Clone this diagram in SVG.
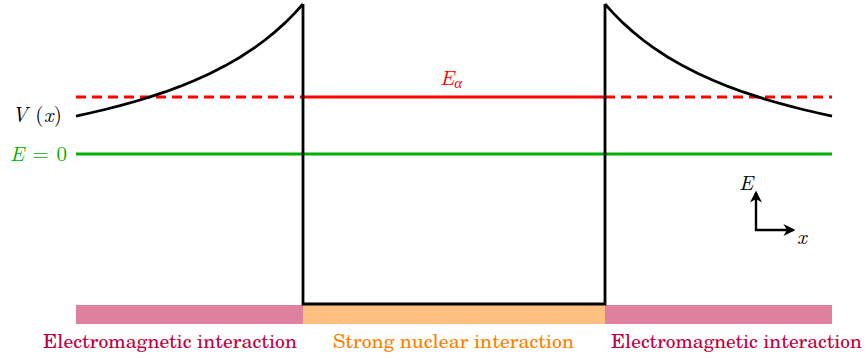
<svg xmlns="http://www.w3.org/2000/svg" xmlns:xlink="http://www.w3.org/1999/xlink" width="867" height="360" viewBox="0 0 867 360">
<style>
.pot{fill:none;stroke:#000;stroke-width:2.8;stroke-linejoin:miter}
.red{stroke:#FF0000;stroke-width:3;fill:none}
.dash{stroke-dasharray:10 6}
.green{stroke:#00B000;stroke-width:3;fill:none}
.axis{stroke:#000;stroke-width:2.4;fill:none}
</style>
<defs>
<marker id="ah" viewBox="0 0 10 10" refX="8" refY="5" markerWidth="5" markerHeight="5" markerUnits="strokeWidth" orient="auto">
<path d="M0,0 L10,5 L0,10 L3,5 Z" fill="#000"/>
</marker>
<path id="curveL" d="M76,116.05 L90,113.0 L105,109.5 L120,105.7 L135,101.5 L150,96.95 L165,91.95 L180,86.43 L195,80.32 L210,73.5 L225,65.85 L240,57.21 L255,47.37 L265,40.01 L275,31.9 L285,22.91 L295,12.9 L303,4.04"/>
</defs>
<g id="bars">
<rect x="76" y="305" width="227" height="19" fill="#DF809F"/>
<rect x="303" y="305" width="302" height="19" fill="#FFBF80"/>
<rect x="605" y="305" width="227" height="19" fill="#DF809F"/>
</g>
<g id="connectors">
<line class="green" x1="76" y1="154" x2="832" y2="154"/>
<line class="red dash" x1="76" y1="97" x2="303" y2="97"/>
<line class="red" x1="303" y1="97" x2="605" y2="97"/>
<line class="red dash" x1="605" y1="97" x2="832" y2="97"/>
<use xlink:href="#curveL" class="pot"/>
<use xlink:href="#curveL" class="pot" transform="translate(908,0) scale(-1,1)"/>
<path class="pot" d="M303,4 L303,304 L605,304 L605,4"/>
<line class="axis" x1="756" y1="231" x2="756" y2="193" marker-end="url(#ah)"/>
<line class="axis" x1="755" y1="230" x2="793" y2="230" marker-end="url(#ah)"/>
</g>
<g id="labels" font-family="Latin Modern Roman, Liberation Serif, serif">
<text x="12" y="122" fill="#000" font-size="21" textLength="50" lengthAdjust="spacing"><tspan font-style="italic">V</tspan> (<tspan font-style="italic">x</tspan>)</text>
<text x="10" y="161" fill="#00B000" font-size="21" textLength="57" lengthAdjust="spacing"><tspan font-style="italic">E</tspan> = 0</text>
<text x="440" y="85" fill="#FF0000" font-size="21" font-style="italic">E<tspan font-size="15" dy="3">α</tspan></text>
<text x="739" y="190" fill="#000" font-size="21" font-style="italic">E</text>
<text x="797" y="244" fill="#000" font-size="21" font-style="italic">x</text>
<g font-family="TeX Gyre Schola, Latin Modern Roman, Liberation Serif, serif" font-size="19">
<text x="43" y="348" fill="#BF0040" textLength="254" lengthAdjust="spacingAndGlyphs">Electromagnetic interaction</text>
<text x="333" y="348" fill="#FF8000" textLength="241" lengthAdjust="spacingAndGlyphs">Strong nuclear interaction</text>
<text x="611" y="348" fill="#BF0040" textLength="251" lengthAdjust="spacingAndGlyphs">Electromagnetic interaction</text>
</g>
</g>
</svg>
